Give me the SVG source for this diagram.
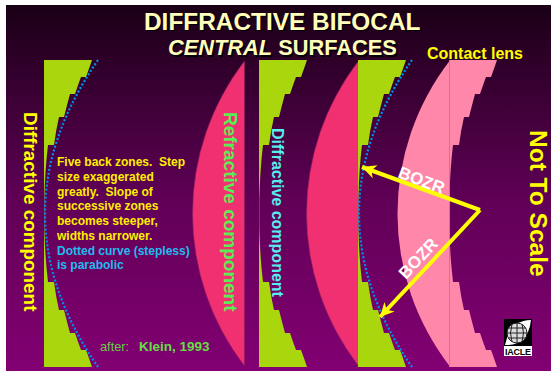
<svg xmlns="http://www.w3.org/2000/svg" xmlns:xlink="http://www.w3.org/1999/xlink" width="551" height="371" viewBox="0 0 551 371">
<style>
text{font-family:"Liberation Sans",Arial,sans-serif;font-weight:bold;white-space:pre}
.title{font-size:24.4px;fill:#ffffbb}
.t2{font-size:21.800px}
.shadow{fill:#000}
.green{fill:#aad60e}
.red{fill:#f03070;stroke:#8a1a60;stroke-width:.6}
.lens{fill:#ff88aa}
.dot{fill:none;stroke:#0090f0;stroke-width:2.200;stroke-dasharray:2 2}
.body{font-size:12px;fill:#ffee00}
.cy{fill:#22bbee}
.arrow{fill:none;stroke:#ffff00;stroke-width:4}
.bozr{font-size:17px;fill:#fff}
.after{font-size:12.800px;fill:#66cc44;font-weight:normal}
</style>
<defs>
<linearGradient id="bg" x1="0" y1="0" x2="0" y2="1"><stop offset="0" stop-color="#1a0016"/><stop offset=".55" stop-color="#620058"/><stop offset="1" stop-color="#820072"/></linearGradient>
<path id="step" d="M44 60H92Q89 69 86 77H81Q78 85 75 94H70Q67 105 64 117H59Q56 130 54 145H48Q45 170 44.300 200V227Q45 257 48 282H54Q56 297 59 310H64Q67 322 70 333H75Q78 342 81 350H86Q89 358 92 367H44Z"/>
<path id="arc" d="M244.500 61A249.600 249.600 0 0 0 244.500 366Z"/>
<path id="par" d="M98 60Q-8 213.500 98 367"/>
<marker id="head" markerUnits="userSpaceOnUse" markerWidth="18" markerHeight="16" refX="15" refY="7" orient="auto"><path d="M15 7L1 0L5 7L1 14Z" fill="#ffff00"/></marker>
</defs>
<rect width="551" height="371" fill="#fff"/>
<rect x="6" y="5" width="545" height="366" fill="url(#bg)"/>
<g id="title">
<text class="title shadow" x="145.500" y="31">DIFFRACTIVE BIFOCAL</text>
<text class="title" x="144" y="29.500">DIFFRACTIVE BIFOCAL</text>
<text class="title t2 shadow" x="169.500" y="56.500"><tspan font-style="italic">CENTRAL</tspan> SURFACES</text>
<text class="title t2" x="168" y="55"><tspan font-style="italic">CENTRAL</tspan> SURFACES</text>
</g>
<g id="left-diffractive">
<use xlink:href="#step" class="green"/>
<use xlink:href="#par" class="dot"/>
<text transform="translate(24 112) rotate(90)" font-size="18.900" fill="#ffff00">Diffractive component</text>
</g>
<g id="refractive">
<use xlink:href="#arc" class="red"/>
<text transform="translate(224 112) rotate(90)" font-size="19" fill="#55ee55">Refractive component</text>
</g>
<g id="mid-diffractive">
<use xlink:href="#step" class="green" x="215"/>
<text transform="translate(272 128) rotate(90)" font-size="16" fill="#55eeee">Diffractive component</text>
</g>
<g id="combined">
<use xlink:href="#arc" class="red" x="114"/>
<use xlink:href="#step" class="green" x="314"/>
<use xlink:href="#par" class="dot" x="314"/>
</g>
<g id="contact-lens">
<use xlink:href="#arc" class="lens" x="205"/>
<use xlink:href="#step" class="lens" x="405"/>
<path d="M449.500 60V367" stroke="#d86c9c" stroke-width="1"/>
<text x="427" y="58.500" font-size="16" fill="#ffff00">Contact lens</text>
</g>
<g id="connectors">
<path class="arrow" d="M480 210L362 167" marker-end="url(#head)"/>
<path class="arrow" d="M480 210L380 317" marker-end="url(#head)"/>
</g>
<text class="bozr" transform="translate(397 177) rotate(21)">BOZR</text>
<text class="bozr" transform="translate(406 280) rotate(-47)">BOZR</text>
<g id="notes">
<text class="body" x="57" y="166">Five back zones.  Step</text>
<text class="body" x="57" y="181">size exaggerated</text>
<text class="body" x="57" y="195.500">greatly.  Slope of</text>
<text class="body" x="57" y="210">successive zones</text>
<text class="body" x="57" y="225">becomes steeper,</text>
<text class="body" x="57" y="240">widths narrower.</text>
<text class="body cy" x="57" y="254.500">Dotted curve (stepless)</text>
<text class="body cy" x="57" y="269">is parabolic</text>
<text class="after" x="100" y="351">after:</text>
<text x="139" y="351" font-size="13.500" fill="#66dd44">Klein, 1993</text>
</g>
<text transform="translate(530 130) rotate(90)" font-size="24.500" fill="#ffff00">Not To Scale</text>
<g id="logo">
<rect x="504" y="319" width="28" height="27" fill="#000"/>
<path d="M531 320Q510 320 505 345Q528 346 531 320Z" fill="#fff"/>
<circle cx="517" cy="333" r="10" fill="#ddd" stroke="#222"/>
<path d="M507 333H527M508 328H526M508 338H526M517 323V343M512 324Q509 333 512 342M522 324Q525 333 522 342" stroke="#222" stroke-width="1" fill="none"/>
<rect x="504" y="346" width="28" height="10" fill="#fff"/>
<text x="505" y="355" font-size="9" fill="#000" textLength="26" lengthAdjust="spacing">IACLE</text>
</g>
</svg>
